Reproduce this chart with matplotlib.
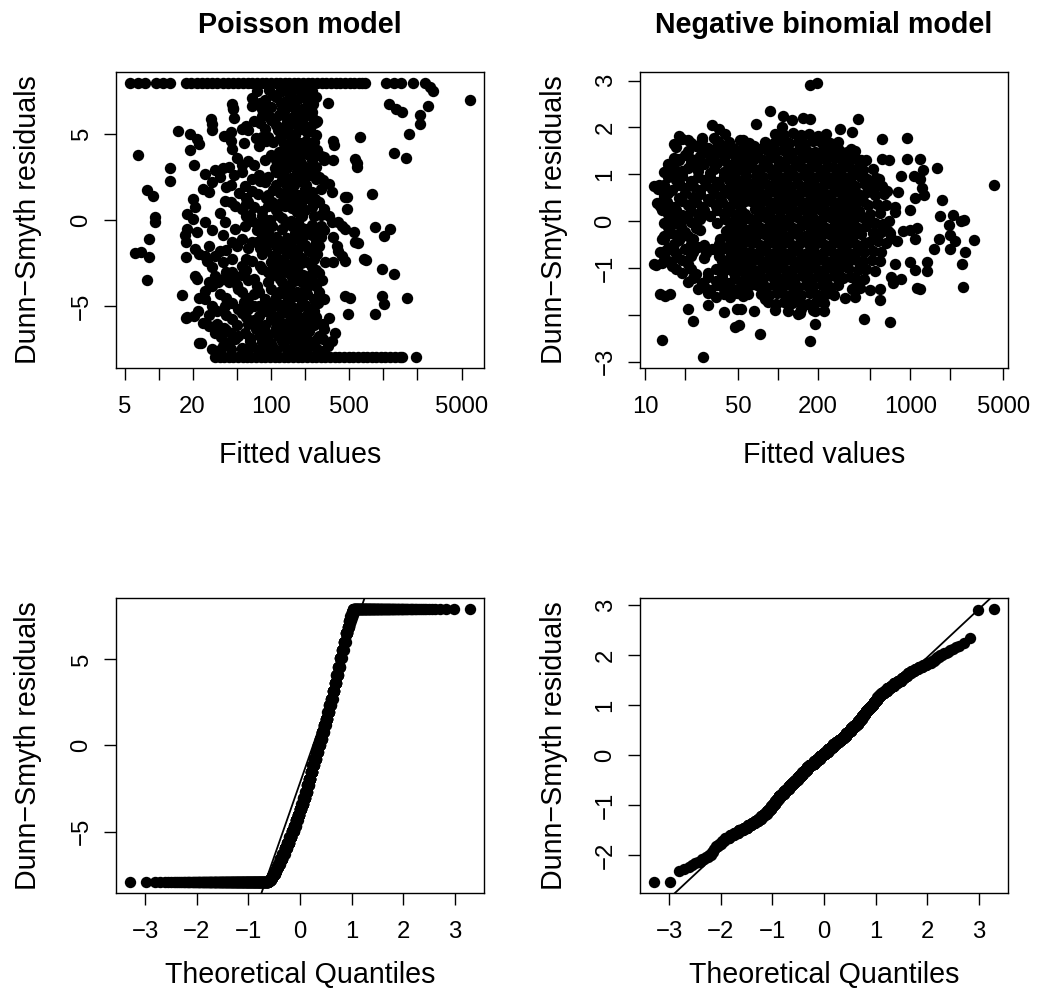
import numpy as np
import matplotlib.pyplot as plt
from statistics import NormalDist

plt.rcParams['font.family'] = ['Liberation Sans', 'DejaVu Sans']

# ---------------- Poisson model: (fitted value, Dunn-Smyth residual) ----------------
pois_band_hi = [(5.5, 7.94), (6.5, 7.94), (7.5, 7.94), (9.5, 7.94), (11, 7.94), (12.7, 7.94),
                (17.5, 7.94), (19.5, 7.94), (22, 7.94), (24.5, 7.94), (27, 7.94), (30, 7.94),
                (33, 7.94), (37, 7.94), (41, 7.94), (46, 7.94), (51, 7.94), (56, 7.94),
                (62, 7.94), (68, 7.94), (75, 7.94), (83, 7.94), (91, 7.94), (100, 7.94),
                (110, 7.94), (121, 7.94), (133, 7.94), (146, 7.94), (160, 7.94), (176, 7.94),
                (194, 7.94), (213, 7.94), (234, 7.94), (258, 7.94), (284, 7.94), (312, 7.94),
                (343, 7.94), (378, 7.94), (415, 7.94), (457, 7.94), (502, 7.94), (552, 7.94),
                (607, 7.94), (650, 7.94), (695, 7.94), (1070, 7.94), (1250, 7.94), (1450, 7.94),
                (1850, 7.94), (2350, 7.94), (2600, 7.7), (2800, 7.5)]

pois_band_lo = [(32, -7.94), (35, -7.94), (38.5, -7.94), (42, -7.94), (46, -7.94), (51, -7.94),
                (56, -7.94), (61, -7.94), (67, -7.94), (74, -7.94), (81, -7.94), (89, -7.94),
                (98, -7.94), (108, -7.94), (118, -7.94), (130, -7.94), (143, -7.94), (157, -7.94),
                (173, -7.94), (190, -7.94), (209, -7.94), (230, -7.94), (253, -7.94), (278, -7.94),
                (306, -7.94), (336, -7.94), (370, -7.94), (407, -7.94), (448, -7.94), (492, -7.94),
                (541, -7.94), (595, -7.94), (655, -7.94), (720, -7.94), (790, -7.94), (870, -7.94),
                (960, -7.94), (1050, -7.94), (1160, -7.94), (1280, -7.94), (1400, -7.94),
                (1480, -7.94), (1950, -7.94)]

pois_left = [(6.1, -1.92), (7.0, -1.84), (8.2, -2.17), (6.5, 3.74), (7.8, 1.75), (8.9, 1.41),
             (9.3, 0.16), (9.3, -0.13), (8.2, -1.12), (7.8, -3.47), (12.6, 3.0), (12.7, 2.23),
             (14.9, 5.13), (16, -4.35), (17.5, -5.66), (23, -7.15), (29, 5.83), (30, 5.19),
             (45, 6.74), (46, 6.45), (19, 5.0), (22, 4.7), (23, 4.4), (20, 1.22), (17.5, -2.17)]

pois_right = [(320, 6.78), (1130, 6.74), (1300, 6.45), (1460, 6.26), (2500, 6.6), (2150, 6.1),
              (2150, 5.58), (1700, 5.0), (1250, 3.9), (1600, 3.6), (620, 4.78), (355, 4.55),
              (365, 4.35), (560, 3.55), (580, 3.3), (590, 3.06), (800, 1.5), (460, 1.32),
              (475, 0.66), (850, -0.42), (1010, -0.91), (1150, -0.52), (560, -1.3), (670, -2.27),
              (970, -2.85), (1240, -3.14), (970, -4.4), (1020, -4.88), (1620, -4.55), (850, -5.47),
              (490, -5.47), (460, -4.4), (510, -4.5), (6000, 6.94), (360, -1.0), (390, -1.5),
              (430, -2.1), (460, -2.37), (360, -2.42), (305, -2.46), (400, -1.78), (400, -0.13),
              (430, -0.33), (460, -0.52), (550, -0.68), (600, -1.34), (700, -2.3), (480, 1.32),
              (260, 3.84), (300, 3.65), (360, 3.45), (210, 5.3), (250, 5.68), (230, 6.26),
              (220, 6.84), (190, 7.3), (190, 4.3), (200, 2.96), (350, -0.13), (280, -0.33)]

pois_core = [
    (75, 7.45), (96, 7.55), (120, 7.4), (140, 7.5), (160, 7.6), (195, 7.45), (230, 7.5),
    (68, 7.05), (88, 6.95), (112, 7.1), (135, 6.9), (150, 7.05), (175, 7.0), (210, 6.95), (250, 7.1),
    (46, 6.5), (68, 6.6), (84, 6.45), (100, 6.55), (125, 6.4), (145, 6.6), (165, 6.5), (190, 6.45),
    (220, 6.55), (47, 5.9), (84, 6.05), (99, 5.95), (118, 6.1), (140, 5.9), (160, 6.0), (185, 6.05),
    (230, 5.95), (30, 5.55), (60, 5.45), (80, 5.6), (110, 5.5), (130, 5.4), (150, 5.55), (170, 5.5),
    (200, 5.45), (240, 5.6), (38, 4.85), (44, 5.1), (55, 5.25), (63, 5.2), (73, 4.75), (84, 4.8),
    (95, 4.8), (125, 4.9), (145, 5.05), (165, 4.95), (210, 5.1), (250, 4.9),
    (44, 4.55), (58, 4.45), (90, 4.6), (105, 4.5), (130, 4.4), (150, 4.55), (180, 4.45), (205, 4.6),
    (240, 4.5), (19, 4.03), (45, 4.1), (117, 3.94), (135, 4.05), (155, 3.94), (170, 4.1), (195, 3.95),
    (260, 4.05), (50, 3.6), (63, 3.4), (88, 3.5), (110, 3.45), (133, 3.55), (150, 3.4), (175, 3.6),
    (230, 3.5), (300, 3.45), (20.5, 3.16), (32, 2.9), (37, 3.0), (42, 3.06), (55, 3.2), (108, 3.0),
    (140, 3.0), (165, 3.2), (200, 2.95), (250, 3.05), (26, 2.67), (30, 2.19), (68, 2.4), (78, 2.6),
    (95, 2.5), (125, 2.6), (150, 2.45), (190, 2.55), (220, 2.6), (270, 2.5), (25, 1.8), (44, 2.05),
    (59, 1.95), (88, 2.2), (110, 2.0), (140, 1.95), (160, 2.05), (205, 2.0), (250, 2.4), (330, 2.1),
    (28, 1.6), (52, 1.55), (68, 1.7), (76, 1.5), (95, 1.45), (120, 1.55), (135, 1.5), (175, 1.45),
    (230, 1.6), (350, 1.6), (39, 1.12), (44, 1.03), (62, 1.05), (103, 1.03), (117, 0.95), (155, 1.22),
    (185, 1.0), (270, 1.03), (18, 0.35), (21, 0.74), (48, 0.83), (55, 0.64), (84, 0.5), (110, 0.6),
    (133, 0.83), (170, 0.45), (200, 0.55), (300, 0.64), (20, 0.06), (26, -0.13), (39, -0.13),
    (68, -0.04), (84, 0.25), (98, 0.0), (125, 0.1), (150, -0.05), (175, -0.13), (240, 0.25),
    (330, 0.25), (17.7, -0.52), (22, -0.72), (48, -0.52), (59, -0.33), (103, -0.33), (125, -0.52),
    (155, -0.33), (190, -0.45), (210, -0.55), (260, -0.72), (17, -0.9), (37, -0.9), (45, -1.3),
    (55, -1.1), (68, -1.3), (84, -0.9), (110, -1.0), (140, -1.05), (180, -0.95), (230, -0.9),
    (280, -1.0), (17.5, -1.3), (21, -1.7), (28, -1.5), (62, -1.6), (95, -1.3), (117, -1.7),
    (150, -1.5), (175, -1.7), (200, -1.45), (250, -1.3), (23, -2.0), (26, -2.1), (32, -2.1),
    (45, -2.27), (84, -2.0), (105, -2.1), (140, -2.0), (165, -1.95), (220, -1.78), (260, -2.0),
    (37, -2.46), (55, -2.66), (68, -2.37), (100, -2.46), (125, -2.85), (155, -2.66), (185, -2.5),
    (210, -2.46), (21, -3.24), (22, -3.43), (32, -3.24), (45, -3.0), (84, -2.85), (110, -3.1),
    (140, -3.0), (175, -3.04), (220, -3.24), (250, -2.9), (34, -3.6), (37, -3.43), (62, -3.5),
    (95, -3.6), (120, -3.4), (160, -3.55), (190, -3.6), (230, -3.5), (30, -3.8), (42, -3.6),
    (51, -4.0), (78, -4.2), (100, -4.0), (117, -4.2), (140, -3.8), (170, -4.2), (200, -4.0),
    (250, -3.82), (270, -4.2), (23, -4.5), (26, -4.6), (63, -4.5), (88, -4.6), (110, -4.45),
    (150, -4.55), (180, -4.4), (240, -4.6), (300, -4.6), (39, -4.98), (45, -4.8), (51, -5.17),
    (63, -5.17), (78, -5.0), (95, -5.17), (125, -4.9), (160, -5.1), (200, -4.95), (230, -5.1),
    (20.5, -5.56), (22.5, -5.27), (78, -5.56), (100, -5.45), (117, -5.56), (140, -5.4), (175, -5.56),
    (210, -5.5), (250, -5.6), (330, -5.66), (17.7, -5.65), (25, -5.95), (38, -6.24), (63, -6.0),
    (88, -6.1), (110, -5.95), (133, -6.05), (165, -6.0), (200, -5.9), (240, -6.1), (290, -6.0),
    (28, -6.15), (32, -6.53), (44, -6.53), (51, -6.72), (59, -6.53), (73, -6.34), (95, -6.6),
    (120, -6.44), (150, -6.5), (190, -6.6), (220, -6.45), (270, -6.72), (370, -6.53), (24, -7.15),
    (37, -7.3), (55, -7.4), (84, -7.1), (103, -7.3), (125, -7.0), (160, -7.1), (230, -7.1),
    (260, -6.92), (350, -7.0), (44, -7.5), (55, -7.45), (68, -7.3), (90, -7.5), (112, -7.55),
    (140, -7.45), (175, -7.5), (210, -7.4), (255, -7.5), (320, -7.3)]

pois_core2 = [
    (105, 7.25), (150, 7.2), (200, 7.3), (80, 6.8), (122, 6.75), (160, 6.8), (235, 6.7),
    (92, 6.25), (132, 6.3), (175, 6.2), (210, 6.3), (70, 5.75), (100, 5.8), (140, 5.7), (190, 5.8),
    (260, 5.75), (88, 5.25), (115, 5.2), (185, 5.25), (225, 5.3), (78, 4.3), (120, 4.75), (160, 4.7),
    (225, 4.25), (100, 3.75), (140, 3.75), (210, 3.8), (280, 3.7), (70, 3.2), (125, 3.25), (185, 3.3),
    (230, 3.25), (55, 2.75), (110, 2.75), (170, 2.8), (240, 2.8), (80, 2.25), (125, 2.3), (180, 2.25),
    (290, 2.3), (60, 1.3), (105, 1.75), (150, 1.75), (200, 1.8), (280, 1.8), (90, 1.25), (135, 1.2),
    (210, 1.3), (245, 1.2), (70, 0.75), (95, 0.8), (155, 0.7), (230, 0.75), (60, 0.25), (115, 0.3),
    (190, 0.25), (280, 0.3), (75, -0.25), (140, -0.25), (230, -0.3), (85, -0.6), (95, -0.75),
    (165, -0.75), (205, -0.8), (300, -0.6), (75, -1.25), (125, -1.3), (190, -1.25), (270, -1.5),
    (40, -1.75), (90, -1.75), (140, -1.75), (230, -1.6), (60, -2.25), (120, -2.3), (190, -2.2),
    (240, -2.25), (30, -2.7), (80, -2.65), (140, -2.6), (230, -2.7), (55, -3.2), (100, -3.25),
    (155, -3.3), (195, -3.2), (270, -3.1), (50, -3.75), (75, -3.8), (130, -3.75), (215, -3.8),
    (285, -3.5), (35, -4.3), (70, -4.3), (125, -4.25), (165, -4.4), (210, -4.3), (58, -4.75),
    (100, -4.8), (140, -4.75), (190, -4.75), (265, -4.8), (33, -5.3), (55, -5.4), (88, -5.3),
    (130, -5.25), (160, -5.35), (240, -5.3), (45, -5.75), (70, -5.8), (100, -5.75), (150, -5.8),
    (185, -5.75), (225, -5.8), (40, -6.35), (80, -6.3), (110, -6.25), (140, -6.3), (175, -6.3),
    (210, -6.25), (300, -6.3), (48, -6.9), (65, -6.85), (95, -6.95), (115, -6.75), (145, -6.8),
    (185, -6.9), (205, -6.75), (290, -6.9), (35, -7.55), (78, -7.6), (100, -7.2), (130, -7.3),
    (155, -7.6), (190, -7.25), (240, -7.3), (290, -7.6)]

pois_core3 = [
    (27, -2.4), (35, -1.8), (50, -1.5), (40, -3.0), (28, -3.6), (48, -3.3), (60, -2.9), (70, -3.4),
    (26, -4.1), (40, -4.5), (55, -4.2), (30, -5.0), (70, -5.0), (28, -5.5), (40, -5.5), (60, -5.6),
    (33, -6.0), (50, -6.1), (75, -6.0), (36, -6.8), (80, -6.7), (42, -7.1), (65, -7.0), (30, -7.5),
    (62, -7.55), (85, -7.6), (35, 0.4), (65, 0.3), (30, -0.6), (75, -0.6), (40, 1.9), (35, 2.5),
    (47, 2.6), (60, 0.9), (90, 0.0), (80, -1.6), (110, -1.5), (160, -1.1), (160, -2.4), (110, -2.6),
    (95, -3.0), (125, -3.6), (150, -4.1), (185, -5.0), (115, -5.0), (170, -6.6), (130, -6.7)]

# ---------------- Negative binomial model ----------------
nb_fringe = [(174, 2.91), (198, 2.95), (87, 2.35), (110, 2.24), (128, 2.15), (155, 2.2), (175, 2.17),
             (107, 2.0), (68, 2.08), (32, 2.06), (36, 1.97), (40, 1.85), (18, 1.81), (21, 1.74),
             (16.4, 1.64), (27, 1.78), (26, 1.6), (29, 1.53), (35, 1.7), (34, 1.53), (55, 1.74),
             (66, 1.6), (74, 1.53), (90, 1.57), (16.4, 1.35), (18, 1.32), (22, 1.32), (24, 1.2),
             (14.6, 1.1), (16.4, 1.07), (19, 1.07), (11.6, 0.75), (12.7, 0.78), (13.8, 0.57),
             (12.3, 0.39), (18, 0.82), (14.6, 0.25), (16.4, 0.11), (15.5, -0.25), (13.8, -0.39),
             (14.2, -0.64), (16.4, -0.64), (11.6, -0.92), (13.4, -0.89), (14.2, -1.6), (15.5, -1.56),
             (13.0, -1.55), (21, -1.87), (23, -2.13), (13.3, -2.54), (27.5, -2.9), (30, -1.78),
             (31, -1.51), (39, -1.95), (49, -1.88), (53, -1.88), (66, -1.92), (48, -2.27), (51, -2.22),
             (73, -2.4), (80, -1.67), (142, -1.99), (147, -1.97), (185, -1.9), (190, -2.2), (174, -2.56),
             (225, -1.92), (402, 2.18), (297, 1.97), (364, 1.9), (354, 1.54), (613, 1.76), (950, 1.78),
             (425, 1.3), (613, 1.33), (690, 1.3), (950, 1.32), (1190, 1.33), (1580, 1.14), (1240, 1.1),
             (1190, 0.89), (1220, 0.71), (1260, 0.55), (850, 0.96), (1060, 0.96), (580, 0.89),
             (485, 0.75), (530, 0.6), (665, 0.64), (800, 0.62), (1080, 0.5), (770, 0.31), (770, 0.19),
             (1720, 0.45), (1000, 0.23), (690, 0.0), (1680, 0.12), (2100, 0.14), (2520, 0.02),
             (1960, -0.09), (1120, -0.14), (1090, -0.39), (710, -0.35), (790, -0.43), (1630, -0.39),
             (2000, -0.3), (2170, -0.43), (2000, -0.6), (3030, -0.4), (1500, -0.6), (2590, -0.66),
             (2440, -0.92), (2510, -1.4), (985, -0.87), (1090, -1.05), (1340, -0.87), (1340, -1.06),
             (760, -0.92), (720, -1.19), (850, -1.24), (745, -1.31), (1190, -1.44), (590, -1.44),
             (590, -1.68), (445, -2.08), (700, -2.15), (4300, 0.78), (2400, 0.0), (1130, -1.42),
             (580, -0.25), (680, -0.22), (880, -0.22), (1000, -0.2)]

nb_mesh = [
    (19, 1.76), (27, 1.74), (33, 1.77), (52, 1.73), (17, 1.58), (24, 1.6), (30, 1.57), (38, 1.59),
    (46, 1.56), (56, 1.6), (20, 1.41), (26, 1.38), (33, 1.42), (40, 1.39), (48, 1.4), (57, 1.37),
    (15, 1.22), (22, 1.24), (28, 1.21), (35, 1.23), (44, 1.2), (53, 1.24), (14, 1.05), (19, 1.03),
    (25, 1.06), (31, 1.02), (39, 1.05), (47, 1.03), (56, 1.06), (17, 0.87), (22, 0.85), (28, 0.88),
    (35, 0.84), (43, 0.87), (52, 0.85), (12.5, 0.69), (16, 0.67), (20, 0.7), (26, 0.66), (32, 0.69),
    (40, 0.67), (49, 0.7), (58, 0.68), (14, 0.51), (18, 0.49), (23, 0.52), (30, 0.48), (37, 0.51),
    (46, 0.49), (55, 0.52), (13, 0.33), (16.5, 0.31), (21, 0.34), (27, 0.3), (34, 0.33), (42, 0.31),
    (51, 0.34), (15, 0.15), (19, 0.13), (25, 0.16), (31, 0.12), (39, 0.15), (48, 0.13), (57, 0.16),
    (14, -0.03), (17, -0.05), (22, -0.02), (35, -0.03), (44, -0.05), (53, -0.02), (15.5, -0.21),
    (20, -0.23), (26, -0.2), (41, -0.21), (50, -0.23), (13.5, -0.39), (18, -0.41), (23, -0.38),
    (37, -0.39), (46, -0.41), (56, -0.38), (15, -0.57), (20, -0.59), (25, -0.56), (32, -0.6),
    (40, -0.57), (49, -0.59), (14, -0.75), (17.5, -0.77), (22, -0.74), (28, -0.78), (36, -0.75),
    (44, -0.77), (54, -0.74), (12, -0.93), (16, -0.95), (21, -0.92), (41, -0.95), (50, -0.92),
    (19, -1.11), (24, -1.13), (30, -1.1), (38, -1.14), (47, -1.11), (57, -1.13), (21, -1.29),
    (27, -1.31), (34, -1.28), (43, -1.32), (53, -1.29), (25, -1.45), (31, -1.47), (39, -1.44),
    (48, -1.48), (58, -1.45), (34, -1.61), (44, -1.63), (55, -1.6)]

nb_mesh2 = [
    (22, 1.67), (36, 1.66), (43, 1.68), (61, 1.66), (21, 1.49), (29, 1.5), (36, 1.48), (43, 1.49),
    (52, 1.51), (62, 1.47), (18, 1.31), (25, 1.32), (31, 1.3), (39, 1.31), (49, 1.29), (59, 1.32),
    (16.5, 1.13), (21, 1.14), (33, 1.12), (42, 1.14), (51, 1.13), (60, 1.14), (15, 0.95), (19, 0.96),
    (25, 0.94), (31, 0.95), (39, 0.97), (48, 0.95), (58, 0.96), (14, 0.77), (18, 0.78), (23, 0.76),
    (29, 0.78), (36, 0.77), (45, 0.76), (54, 0.78), (15, 0.59), (20, 0.6), (26, 0.58), (33, 0.6),
    (42, 0.59), (51, 0.6), (60, 0.58), (14.5, 0.41), (19, 0.42), (24, 0.4), (31, 0.42), (38, 0.41),
    (47, 0.4), (57, 0.42), (13.5, 0.23), (17, 0.24), (22, 0.22), (28, 0.24), (35, 0.23), (44, 0.22),
    (53, 0.24), (16, 0.05), (20, 0.06), (26, 0.04), (40, 0.05), (49, 0.04), (58, 0.06), (15, -0.13),
    (18.5, -0.12), (24, -0.14), (46, -0.12), (55, -0.14), (14, -0.31), (17, -0.3), (21, -0.32),
    (43, -0.31), (52, -0.3), (60, -0.32), (16.5, -0.49), (22, -0.48), (28, -0.5), (36, -0.49),
    (44, -0.48), (54, -0.5), (13, -0.66), (17, -0.67), (23, -0.65), (29, -0.67), (36, -0.66),
    (45, -0.65), (55, -0.67), (15, -0.85), (19, -0.84), (38, -0.85), (46, -0.84), (57, -0.86),
    (17, -1.03), (22, -1.02), (34, -1.03), (43, -1.02), (52, -1.04), (61, -1.03), (23, -1.21),
    (30, -1.2), (38, -1.22), (48, -1.21), (58, -1.2), (28, -1.38), (35, -1.37), (44, -1.39),
    (53, -1.38), (62, -1.37), (30, -1.54), (39, -1.55), (49, -1.53), (60, -1.55)]

nb_core = [
    (95, 1.86), (112, 1.83), (131, 1.88), (150, 1.84), (172, 1.87), (200, 1.82), (232, 1.85),
    (80, 1.69), (93, 1.66), (106, 1.7), (122, 1.67), (141, 1.69), (161, 1.65), (186, 1.7), (213, 1.68),
    (246, 1.66), (284, 1.69), (71, 1.5), (83, 1.52), (95, 1.49), (110, 1.51), (126, 1.48), (144, 1.52),
    (166, 1.5), (191, 1.47), (219, 1.51), (252, 1.49), (292, 1.52), (332, 1.48), (66, 1.33), (77, 1.3),
    (88, 1.34), (101, 1.31), (117, 1.33), (134, 1.3), (154, 1.34), (177, 1.31), (203, 1.33), (233, 1.3),
    (268, 1.34), (306, 1.31), (352, 1.33), (64, 1.15), (74, 1.12), (85, 1.16), (98, 1.13), (113, 1.15),
    (129, 1.12), (149, 1.16), (171, 1.13), (197, 1.15), (226, 1.12), (260, 1.16), (299, 1.13),
    (342, 1.15), (392, 1.12), (68, 0.97), (78, 0.94), (90, 0.98), (104, 0.95), (119, 0.97), (137, 0.94),
    (158, 0.98), (181, 0.95), (208, 0.97), (239, 0.94), (275, 0.98), (316, 0.95), (362, 0.97),
    (421, 0.94), (62, 0.79), (71, 0.76), (82, 0.8), (94, 0.77), (108, 0.79), (124, 0.76), (143, 0.8),
    (165, 0.77), (189, 0.79), (218, 0.76), (251, 0.8), (289, 0.77), (331, 0.79), (381, 0.76),
    (452, 0.8), (66, 0.61), (76, 0.58), (87, 0.62), (100, 0.59), (115, 0.61), (132, 0.58), (152, 0.62),
    (175, 0.59), (202, 0.61), (232, 0.58), (267, 0.62), (307, 0.59), (353, 0.61), (406, 0.58),
    (472, 0.62), (63, 0.43), (72, 0.4), (83, 0.44), (95, 0.41), (109, 0.43), (126, 0.4), (145, 0.44),
    (167, 0.41), (192, 0.43), (221, 0.4), (254, 0.44), (292, 0.41), (336, 0.43), (386, 0.4),
    (442, 0.44), (67, 0.25), (77, 0.22), (89, 0.26), (102, 0.23), (117, 0.25), (135, 0.22),
    (155, 0.26), (179, 0.23), (206, 0.25), (237, 0.22), (272, 0.26), (313, 0.23), (359, 0.25),
    (413, 0.22), (61, 0.07), (70, 0.04), (80, 0.08), (92, 0.05), (106, 0.07), (122, 0.04), (140, 0.08),
    (162, 0.05), (186, 0.07), (214, 0.04), (246, 0.08), (283, 0.05), (325, 0.07), (373, 0.04),
    (431, 0.08), (65, -0.11), (75, -0.14), (86, -0.1), (99, -0.13), (114, -0.11), (131, -0.14),
    (151, -0.1), (174, -0.13), (200, -0.11), (230, -0.14), (264, -0.1), (303, -0.13), (348, -0.11),
    (401, -0.14), (461, -0.1), (60, -0.29), (69, -0.32), (79, -0.28), (91, -0.31), (105, -0.29),
    (121, -0.32), (139, -0.28), (160, -0.31), (184, -0.29), (212, -0.32), (244, -0.28), (281, -0.31),
    (323, -0.29), (371, -0.32), (426, -0.28), (64, -0.47), (74, -0.5), (85, -0.46), (97, -0.49),
    (112, -0.47), (129, -0.5), (148, -0.46), (171, -0.49), (197, -0.47), (226, -0.5), (260, -0.46),
    (299, -0.49), (343, -0.47), (395, -0.5), (454, -0.46), (62, -0.65), (71, -0.68), (82, -0.64),
    (94, -0.67), (108, -0.65), (124, -0.68), (143, -0.64), (165, -0.67), (189, -0.65), (218, -0.68),
    (251, -0.64), (288, -0.67), (331, -0.65), (381, -0.68), (66, -0.83), (76, -0.86), (87, -0.82),
    (100, -0.85), (115, -0.83), (132, -0.86), (152, -0.82), (175, -0.85), (202, -0.83), (232, -0.86),
    (267, -0.82), (307, -0.85), (353, -0.83), (406, -0.86), (63, -1.01), (72, -1.04), (83, -1.0),
    (95, -1.03), (109, -1.01), (126, -1.04), (145, -1.0), (167, -1.03), (192, -1.01), (221, -1.04),
    (254, -1.0), (292, -1.03), (336, -1.01), (67, -1.19), (77, -1.22), (89, -1.18), (102, -1.21),
    (117, -1.19), (135, -1.22), (155, -1.18), (179, -1.21), (206, -1.19), (237, -1.22), (272, -1.18),
    (313, -1.21), (359, -1.19), (70, -1.37), (81, -1.4), (93, -1.36), (107, -1.39), (123, -1.37),
    (141, -1.4), (162, -1.36), (186, -1.39), (214, -1.37), (246, -1.4), (283, -1.36), (75, -1.55),
    (86, -1.58), (99, -1.54), (114, -1.57), (131, -1.55), (151, -1.58), (174, -1.54), (200, -1.57),
    (230, -1.55), (265, -1.58), (84, -1.73), (97, -1.76), (111, -1.72), (128, -1.75), (147, -1.73),
    (169, -1.76), (194, -1.72), (223, -1.75), (95, -1.9), (120, -1.92), (150, -1.88), (190, -1.91)]

nb_right = [(380, 1.5), (400, 1.3), (460, 1.31), (440, 1.1), (520, 1.12), (470, 0.9), (550, 0.92),
            (520, 0.74), (610, 0.76), (540, 0.55), (630, 0.57), (480, 0.35), (560, 0.37), (650, 0.34),
            (500, 0.15), (590, 0.17), (470, -0.05), (540, -0.03), (620, -0.06), (520, -0.25),
            (600, -0.23), (700, -0.26), (490, -0.45), (570, -0.43), (660, -0.46), (450, -0.65),
            (520, -0.63), (600, -0.66), (440, -0.85), (510, -0.83), (590, -0.86), (400, -1.05),
            (460, -1.03), (540, -1.06), (390, -1.25), (450, -1.23), (360, -1.45), (420, -1.43),
            (500, -1.46), (320, -1.65), (380, -1.63)]

# ---------------- residuals for the QQ plots: level and how many residuals sit there ----------------
pois_qq_level = [-7.94, -7.88, -7.78, -7.68, -7.58, -7.46, -7.26, -7.06, -6.86, -6.59, -6.27, -5.95,
                 -5.63, -5.31, -4.99, -4.67, -4.35, -4.03, -3.71, -3.38, -3.06, -2.71, -2.32, -1.94,
                 -1.55, -1.16, -0.78, -0.39, 0.0, 0.39, 0.78, 1.16, 1.55, 1.94, 2.32, 2.71, 3.14,
                 3.62, 4.10, 4.58, 5.06, 5.55, 6.03, 6.52, 6.9, 7.2, 7.5, 7.75, 7.94]
pois_qq_count = [280, 8, 8, 8, 8, 12, 12, 12, 12, 18, 18, 18, 18, 18, 18, 15, 15, 15, 15, 15, 16,
                 14, 14, 14, 14, 13, 15, 15, 15, 14, 14, 13, 12, 12, 12, 12, 12, 11, 11, 11,
                 11, 11, 11, 10, 7, 7, 7, 7, 157]

nb_qq_level = [-2.54, -2.32, -2.28, -2.24, -2.2, -2.16, -2.13, -2.08, -2.03, -1.99, -1.93, -1.87,
               -1.82, -1.77, -1.72, -1.66, -1.60, -1.55, -1.50, -1.45, -1.40, -1.36, -1.32, -1.27,
               -1.22, -1.17, -1.12, -1.07, -1.02, -0.97, -0.92, -0.87, -0.82, -0.77, -0.72, -0.67,
               -0.62, -0.57, -0.53, -0.49, -0.44, -0.39, -0.34, -0.29, -0.24, -0.20, -0.17, -0.12,
               -0.07, -0.02, 0.03, 0.07, 0.12, 0.17, 0.22, 0.27, 0.31, 0.34, 0.39, 0.44, 0.49, 0.54,
               0.59, 0.63, 0.68, 0.73, 0.78, 0.83, 0.88, 0.93, 0.97, 1.01, 1.06, 1.11, 1.16, 1.2,
               1.24, 1.29, 1.34, 1.39, 1.44, 1.49, 1.54, 1.59, 1.64, 1.69, 1.73, 1.77, 1.81, 1.84,
               1.88, 1.92, 1.96, 2.0, 2.04, 2.07, 2.1, 2.13, 2.16, 2.18, 2.25, 2.35, 2.91, 2.93]
nb_qq_count = [2, 1, 1, 1, 1, 1, 2, 2, 2, 2, 2, 1, 3, 3, 4, 7, 7, 8, 11, 11, 11, 10, 11, 11, 11, 12,
               10, 10, 10, 10, 9, 9, 15, 15, 15, 15, 14, 14, 14, 17, 17, 17, 18, 17, 18, 17,
               21, 21, 22, 22, 21, 22, 22, 21, 22, 21, 21, 17, 17, 17, 17, 16, 16, 16,
               12, 12, 11, 11, 11, 11, 11, 10, 10, 9, 9, 9, 12, 12, 12, 11, 11, 11,
               7, 7, 7, 7, 6, 6, 5, 5, 2, 2, 2, 2, 2, 1, 1, 1, 1, 1, 1, 1, 1, 1]

AXES = {'tl': [0.1103, 0.6287, 0.3498, 0.2987], 'tr': [0.6084, 0.6287, 0.3498, 0.2987],
        'bl': [0.1103, 0.0986, 0.3498, 0.2983], 'br': [0.6084, 0.0986, 0.3498, 0.2983]}
TICK_FS = 17.2
LAB_FS = 20.6
MS = 8.2


def r_range(v, log=False):
    # rango de R: datos +/- 4 %
    v = np.log10(v) if log else np.asarray(v, float)
    pad = (v.max() - v.min()) * 0.04
    lo, hi = v.min() - pad, v.max() + pad
    return (10 ** lo, 10 ** hi) if log else (lo, hi)


def r_axes(ax, xt, xl, yt, yl, xlabel, ylab_x, xlab_y=-0.321):
    ax.set_xticks(xt, labels=xl)
    ax.set_yticks(yt, labels=yl)
    ax.xaxis.set_minor_locator(plt.NullLocator())
    ax.yaxis.set_minor_locator(plt.NullLocator())
    ax.tick_params(direction='out', length=8.4, width=1.0, labelsize=TICK_FS)
    ax.tick_params(axis='x', pad=11.5)
    ax.tick_params(axis='y', pad=8.5)
    for lab in ax.get_yticklabels():
        lab.set_rotation(90)
        lab.set_va('center')
    for s in ax.spines.values():
        s.set_linewidth(1.0)
    ax.set_xlabel(xlabel, fontsize=LAB_FS)
    ax.xaxis.label.set_va('baseline')
    ax.xaxis.set_label_coords(0.5, xlab_y)
    ax.set_ylabel('Dunn\u2212Smyth residuals', fontsize=LAB_FS)
    ax.yaxis.label.set_va('baseline')
    ax.yaxis.set_label_coords(ylab_x, 0.5)


def qq(ax, level, count):
    res = np.sort(np.repeat(level, count))
    n = len(res)
    nd = NormalDist()
    theo = np.array([nd.inv_cdf((i - 0.5) / n) for i in range(1, n + 1)])
    ax.plot(theo, res, 'o', color='black', ms=MS, mew=0, ls='none')
    y1, y2 = np.percentile(res, [25, 75])
    x1, x2 = nd.inv_cdf(0.25), nd.inv_cdf(0.75)
    slope = (y2 - y1) / (x2 - x1)
    ax.axline((0, y1 - slope * x1), slope=slope, color='black', lw=1.3)
    ax.set_xlim(r_range(theo))
    ax.set_ylim(r_range(res))


fig = plt.figure(figsize=(10.52, 9.91), dpi=100)

pois = pois_band_hi + pois_band_lo + pois_left + pois_right + pois_core + pois_core2 + pois_core3
pf, pr = np.array(pois).T
nb = nb_fringe + nb_mesh + nb_mesh2 + nb_core + nb_right
nf, nr = np.array(nb).T

ax = fig.add_axes(AXES['tl'])
ax.plot(pf, pr, 'o', color='black', ms=MS, mew=0, ls='none')
ax.set_xscale('log')
ax.set_xlim(r_range(pf, log=True))
ax.set_ylim(r_range(pr))
r_axes(ax, [5, 10, 20, 50, 100, 200, 500, 1000, 2000, 5000],
       ['5', '', '20', '', '100', '', '500', '', '', '5000'],
       [-5, 0, 5], ['\u22125', '0', '5'], 'Fitted values', -0.217)
ax.set_title('Poisson model', fontsize=LAB_FS, fontweight='bold', pad=28)

ax = fig.add_axes(AXES['tr'])
ax.plot(nf, nr, 'o', color='black', ms=MS, mew=0, ls='none')
ax.set_xscale('log')
ax.set_xlim(r_range(nf, log=True))
ax.set_ylim(r_range(nr))
r_axes(ax, [10, 20, 50, 100, 200, 500, 1000, 2000, 5000],
       ['10', '', '50', '', '200', '', '1000', '', '5000'],
       [-3, -2, -1, 0, 1, 2, 3], ['\u22123', '', '\u22121', '0', '1', '2', '3'],
       'Fitted values', -0.212)
ax.set_title('Negative binomial model', fontsize=LAB_FS, fontweight='bold', pad=28)

qt = [-3, -2, -1, 0, 1, 2, 3]
qtl = ['\u22123', '\u22122', '\u22121', '0', '1', '2', '3']

ax = fig.add_axes(AXES['bl'])
qq(ax, pois_qq_level, pois_qq_count)
r_axes(ax, qt, qtl, [-5, 0, 5], ['\u22125', '0', '5'], 'Theoretical Quantiles', -0.217, -0.305)

ax = fig.add_axes(AXES['br'])
qq(ax, nb_qq_level, nb_qq_count)
r_axes(ax, qt, qtl, [-2, -1, 0, 1, 2, 3], ['\u22122', '\u22121', '0', '1', '2', '3'],
       'Theoretical Quantiles', -0.212, -0.305)

fig.savefig('out.png', dpi=100)
